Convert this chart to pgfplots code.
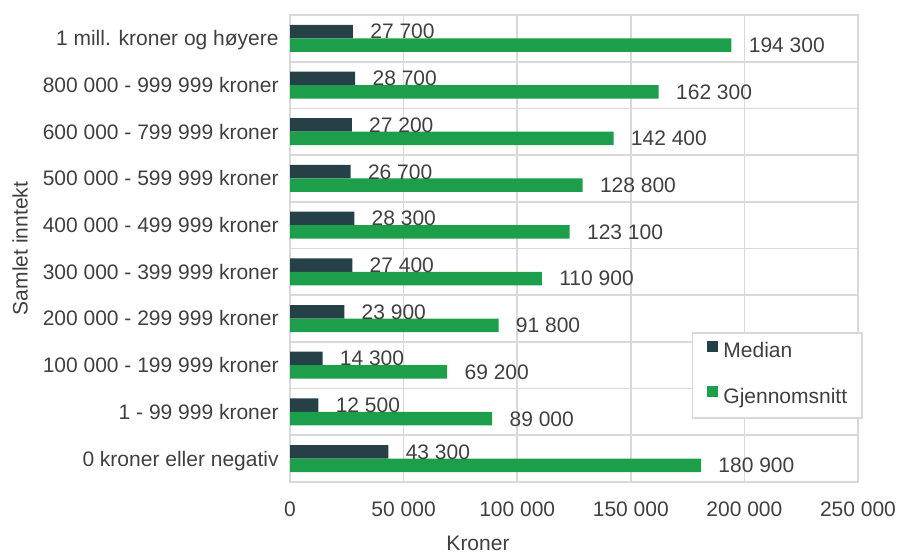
\documentclass[border=0pt]{standalone}
\usepackage{fontspec}
\setmainfont{Liberation Sans}
\usepackage{pgfplots}
\pgfplotsset{compat=1.18}
\definecolor{medc}{RGB}{38,64,71}
\definecolor{avgc}{RGB}{29,158,75}
\definecolor{gridc}{RGB}{217,217,217}
\definecolor{txtc}{RGB}{64,64,64}
\begin{document}
\begin{tikzpicture}
\begin{axis}[
  scale only axis, width=284pt, height=233.5pt,
  xbar, bar width=6.75pt,
  xmin=0, xmax=250000, ymin=-0.5, ymax=9.5,
  clip=false,
  font=\fontsize{10.5}{12}\selectfont,
  /pgf/number format/assume math mode=true,
  scaled x ticks=false,
  xtick={0,50000,100000,150000,200000,250000},
  xticklabels={0,50 000,100 000,150 000,200 000,250 000},
  ytick={0,1,2,3,4,5,6,7,8,9},
  yticklabels={0 kroner eller negativ,1 - 99 999 kroner,100 000 - 199 999 kroner,
    200 000 - 299 999 kroner,300 000 - 399 999 kroner,400 000 - 499 999 kroner,
    500 000 - 599 999 kroner,600 000 - 799 999 kroner,800 000 - 999 999 kroner,
    1 mill. kroner og høyere},
  minor ytick={-0.5,0.5,...,9.5},
  xmajorgrids, yminorgrids,
  major tick length=0pt, minor tick length=0pt,
  major grid style={gridc, line width=0.85pt},
  minor grid style={gridc, line width=0.85pt},
  axis line style={gridc, line width=0.85pt},
  tick label style={text=txtc},
  xticklabel style={inner sep=0pt, anchor=north, yshift=-9.5pt},
  yticklabel style={inner sep=0pt, anchor=east, xshift=-5.5pt, text height=7.4pt, text depth=0pt},
  xlabel={Kroner}, ylabel={Samlet inntekt},
  every axis x label/.style={at={(rel axis cs:0.331,-0.1306)}, anchor=center, text=txtc},
  every axis y label/.style={at={(rel axis cs:-0.475,0.5)}, rotate=90, anchor=center, text=txtc},
  nodes near coords={\pgfmathprintnumber[fixed,precision=0,1000 sep={\ }]{\pgfplotspointmeta}},
  point meta=x,
  every node near coord/.append style={anchor=west, inner sep=0pt, xshift=8.5pt,
    text height=7.4pt, text depth=0pt, text=txtc},
  legend image code/.code={\fill[#1] (0pt,1.05pt) rectangle (5.5pt,6.55pt);},
  legend cell align=left,
  legend style={at={(rel axis cs:1.0088,0.3212)}, anchor=north east,
    draw=gridc, line width=0.85pt, text=txtc, fill=white,
    inner xsep=7.5pt, inner ysep=4pt, row sep=10.6pt,
    nodes={inner sep=0pt, text height=7.4pt, text depth=3.5pt},
    /tikz/every odd column/.append style={column sep=2.5pt}},
]
\addplot[draw=none, fill=medc, bar shift=3.375pt] coordinates {
  (43300,0) (12500,1) (14300,2) (23900,3) (27400,4)
  (28300,5) (26700,6) (27200,7) (28700,8) (27700,9)};
\addlegendentry{Median}
\addplot[draw=none, fill=avgc, bar shift=-3.375pt] coordinates {
  (180900,0) (89000,1) (69200,2) (91800,3) (110900,4)
  (123100,5) (128800,6) (142400,7) (162300,8) (194300,9)};
\addlegendentry{Gjennomsnitt}
\path (rel axis cs:-0.5106,-0.1499) rectangle (rel axis cs:1.0722,1.0321);
\end{axis}
\end{tikzpicture}
\end{document}
